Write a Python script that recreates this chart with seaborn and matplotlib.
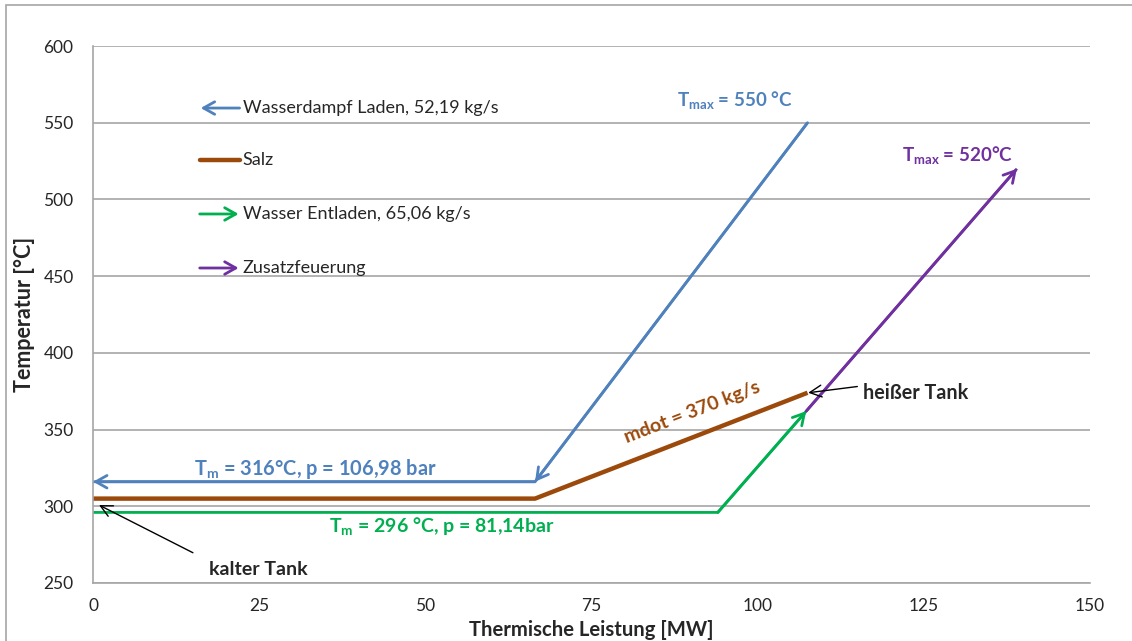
import matplotlib
matplotlib.use('Agg')
import matplotlib.pyplot as plt
import seaborn as sns
import pandas as pd
from matplotlib.patches import Rectangle

# data
dampf_x = [107.5, 66.5, 0.0]
dampf_y = [550, 316, 316]
salz_x = [0.0, 66.5, 107.5]
salz_y = [305, 305, 374]
wasser_x = [0.0, 94.0, 107.3]
wasser_y = [296, 296, 362]
zusatz_x = [107.3, 139.0]
zusatz_y = [362, 520]

legend_labels = ['Wasserdampf Laden, 52,19 kg/s', 'Salz',
                 'Wasser Entladen, 65,06 kg/s', 'Zusatzfeuerung']

BLUE = '#4f81bd'
BROWN = '#9c4a0c'
GREEN = '#00b050'
PURPLE = '#7030a0'

sns.set_style('white')
plt.rcParams['font.family'] = ['Lato', 'DejaVu Sans']
plt.rcParams['mathtext.default'] = 'regular'

fig = plt.figure(figsize=(11.32, 6.41), dpi=100)
ax = fig.add_axes([0.0822, 0.0905, 0.8807, 0.8377])

fig.patches.append(Rectangle((6 / 1132, -0.1), 1.2, 1 - 5 / 641 + 0.1,
                             transform=fig.transFigure, fill=False,
                             edgecolor='#a6a6a6', lw=1.2))

def seg(xs, ys, color, lw):
    df = pd.DataFrame({'x': xs, 'y': ys})
    sns.lineplot(data=df, x='x', y='y', sort=False, estimator=None,
                 color=color, lw=lw, ax=ax, solid_capstyle='butt')

def head(x0, y0, x1, y1, color, lw):
    ax.annotate('', xy=(x1, y1), xytext=(x0, y0),
                arrowprops=dict(arrowstyle='->,head_length=0.8,head_width=0.45',
                                color=color, lw=lw, shrinkA=0, shrinkB=0))

seg(salz_x, salz_y, BROWN, 3.2)
seg(wasser_x, wasser_y, GREEN, 2.0)
seg(zusatz_x, zusatz_y, PURPLE, 2.0)
seg(dampf_x, dampf_y, BLUE, 2.0)

# arrow heads
head(dampf_x[0], dampf_y[0], dampf_x[1], dampf_y[1], BLUE, 2.0)
head(dampf_x[1], dampf_y[1], dampf_x[2], dampf_y[2], BLUE, 2.0)
head(wasser_x[1], wasser_y[1], wasser_x[2], wasser_y[2], GREEN, 2.0)
head(zusatz_x[0], zusatz_y[0], zusatz_x[1], zusatz_y[1], PURPLE, 2.0)

ax.set_xlim(0, 150)
ax.set_ylim(250, 600)
ax.set_xticks(range(0, 151, 25))
ax.set_yticks(range(250, 601, 50))
ax.grid(axis='y', color='#a6a6a6', lw=1.2)
ax.grid(axis='x', visible=False)
for s in ['top', 'right']:
    ax.spines[s].set_visible(False)
for s in ['left', 'bottom']:
    ax.spines[s].set_color('#a6a6a6')
    ax.spines[s].set_linewidth(1.2)
ax.tick_params(axis='both', direction='out', length=6, width=1.2,
               color='#a6a6a6', labelsize=12.5, pad=5)
ax.tick_params(axis='y', pad=8)
ax.set_xlabel('Thermische Leistung [MW]', fontsize=14.6, fontweight='bold', labelpad=4)
ax.set_ylabel('Temperatur [°C]', fontsize=15.5, fontweight='bold', labelpad=6)

# annotations
ax.text(96.6, 565, 'T$_{max}$ = 550 °C', color=BLUE, fontsize=13.5,
        fontweight='bold', ha='center', va='center')
ax.text(130, 529, 'T$_{max}$ = 520°C', color=PURPLE, fontsize=13.5,
        fontweight='bold', ha='center', va='center')
ax.text(33.4, 324, 'T$_{m}$ = 316°C, p = 106,98 bar', color=BLUE, fontsize=14.4,
        fontweight='bold', ha='center', va='center')
ax.text(52.5, 287, 'T$_{m}$ = 296 °C, p = 81,14bar', color=GREEN, fontsize=14,
        fontweight='bold', ha='center', va='center')
ax.text(90.1, 361, 'mdot = 370 kg/s', color=BROWN, fontsize=14,
        fontweight='bold', ha='center', va='center', rotation=21)

ax.annotate('kalter Tank', xy=(0.9, 300.8), xytext=(24.8, 259),
            fontsize=14, fontweight='bold', ha='center', va='center',
            arrowprops=dict(arrowstyle='->,head_length=0.6,head_width=0.3',
                            color='black', lw=1, shrinkA=10, shrinkB=0,
                            relpos=(0.0, 1.0)))
ax.annotate('heißer Tank', xy=(107.6, 374), xytext=(115.9, 374),
            fontsize=14.2, fontweight='bold', ha='left', va='center',
            arrowprops=dict(arrowstyle='->,head_length=0.6,head_width=0.3',
                            color='black', lw=1, shrinkA=2, shrinkB=0,
                            relpos=(0.0, 0.85)))

# manual legend
leg_y = [0.8845, 0.7877, 0.6872, 0.5866]
leg_c = [BLUE, BROWN, GREEN, PURPLE]
for i, (lab, yy, c) in enumerate(zip(legend_labels, leg_y, leg_c)):
    if i == 1:
        ax.plot([0.107, 0.147], [yy, yy], transform=ax.transAxes, color=c,
                lw=3.2, solid_capstyle='round')
    else:
        x0, x1 = (0.147, 0.108) if i == 0 else (0.107, 0.146)
        ax.annotate('', xy=(x1, yy), xytext=(x0, yy), xycoords='axes fraction',
                    arrowprops=dict(arrowstyle='->,head_length=0.8,head_width=0.45',
                                    color=c, lw=2.0, shrinkA=0, shrinkB=0))
    ax.text(0.150, yy, lab, transform=ax.transAxes, fontsize=13,
            ha='left', va='center')

fig.savefig('out.png', dpi=100)
